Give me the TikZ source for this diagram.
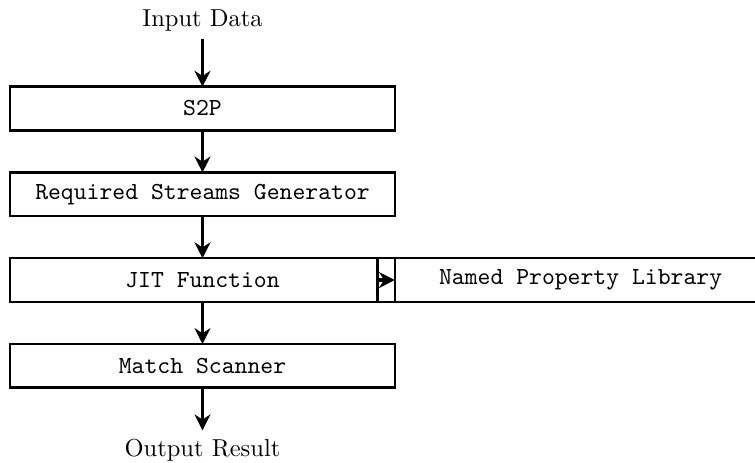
\documentclass[tikz,border=0pt]{standalone}
\usepackage{tikz}
\usetikzlibrary{positioning,arrows.meta}

\begin{document}
\begin{tikzpicture}[x=0.01435cm, y=-0.01435cm,
    block/.style={draw, line width=1pt, minimum width=157pt, minimum height=17.8pt, outer sep=0pt, font=\ttfamily},
    flow/.style={-{Stealth[length=6.5pt,width=6.5pt]}, line width=1.3pt},
    node distance=17.2pt]
    \useasboundingbox (0,0) rectangle (755,462);

    % Pipeline stages
    \node (input) at (202.5,20) {Input Data};
    \node[block] (s2p) at (202.5,108.5) {S2P};
    \node[block, below=of s2p] (rsg) {Required Streams Generator};
    \node[block, below=of rsg] (jit) {JIT Function};
    \node[block, below=of jit] (scan) {Match Scanner};
    \node (output) at (202.5,450) {Output Result};

    % Property library beside the JIT stage
    \node[block, minimum width=165.6pt, right=-7pt of jit] (npl) {Named Property Library};

    % Data flow
    \draw[flow] (input) -- (s2p);
    \draw[flow] (s2p) -- (rsg);
    \draw[flow] (rsg) -- (jit);
    \draw[flow] (jit) -- (scan);
    \draw[flow] (scan) -- (output);
    \draw[flow] (npl.west) -- (jit.east);
\end{tikzpicture}
\end{document}
